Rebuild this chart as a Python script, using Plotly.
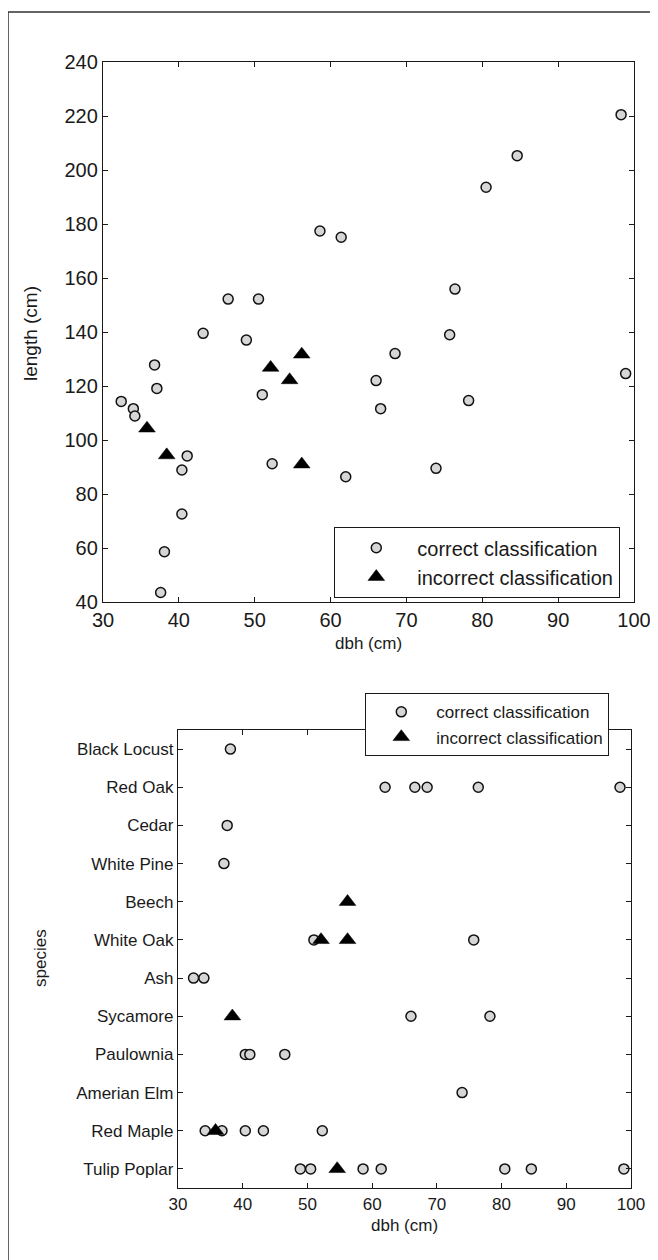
import plotly.graph_objects as go

# ---------------- data ----------------
species_order = ["Tulip Poplar", "Red Maple", "Amerian Elm", "Paulownia", "Sycamore", "Ash",
                 "White Oak", "Beech", "White Pine", "Cedar", "Red Oak", "Black Locust"]

dbh = [32.4, 34.0,
       34.2, 35.8, 36.8, 40.4, 43.2, 52.3,
       37.1, 37.6, 38.1,
       38.4, 66.0, 78.2,
       40.4, 41.1, 46.5,
       48.9, 50.5, 54.6, 58.6, 61.4, 80.5, 84.6, 98.9,
       51.0, 52.1, 56.2, 75.7,
       56.2,
       62.0, 66.6, 68.5, 76.4, 98.3,
       73.9]
length = [114.3, 111.6,
          108.9, 104.3, 127.8, 72.6, 139.5, 91.2,
          119.1, 43.5, 58.6,
          94.4, 122.0, 114.6,
          88.9, 94.1, 152.2,
          137.0, 152.2, 122.2, 177.4, 175.1, 193.6, 205.3, 124.6,
          116.8, 126.8, 91.0, 139.0,
          131.7,
          86.4, 111.6, 132.0, 155.9, 220.5,
          89.5]
species = ["Ash", "Ash",
           "Red Maple", "Red Maple", "Red Maple", "Red Maple", "Red Maple", "Red Maple",
           "White Pine", "Cedar", "Black Locust",
           "Sycamore", "Sycamore", "Sycamore",
           "Paulownia", "Paulownia", "Paulownia",
           "Tulip Poplar", "Tulip Poplar", "Tulip Poplar", "Tulip Poplar", "Tulip Poplar",
           "Tulip Poplar", "Tulip Poplar", "Tulip Poplar",
           "White Oak", "White Oak", "White Oak", "White Oak",
           "Beech",
           "Red Oak", "Red Oak", "Red Oak", "Red Oak", "Red Oak",
           "Amerian Elm"]
correct = [1, 1,
           1, 0, 1, 1, 1, 1,
           1, 1, 1,
           0, 1, 1,
           1, 1, 1,
           1, 1, 0, 1, 1, 1, 1, 1,
           1, 0, 0, 1,
           0,
           1, 1, 1, 1, 1,
           1]

x_ticks = [30, 40, 50, 60, 70, 80, 90, 100]
y_ticks = [40, 60, 80, 100, 120, 140, 160, 180, 200, 220, 240]

ok_idx = [i for i, c in enumerate(correct) if c]
bad_idx = [i for i, c in enumerate(correct) if not c]

# page 658x1260; the browser's default body margin is 8px
W, H, OFF = 658, 1260, 8
FW, FH = W - OFF, H - OFF


def fx(p):
    return (p - OFF) / FW


def fy(p):
    return 1 - (p - OFF) / FH


FONT = "Arial, Liberation Sans, sans-serif"
INK = "#1a1a1a"

circle = dict(symbol="circle", size=10, color="#d6d6d6", line=dict(color="#111", width=1.5))
tri = dict(symbol="triangle-up", size=14.5, color="#000", line=dict(color="#000", width=0.5))

fig = go.Figure()

# top: length vs dbh
fig.add_trace(go.Scatter(x=[dbh[i] for i in ok_idx], y=[length[i] for i in ok_idx],
                         mode="markers", marker=circle, name="correct classification",
                         xaxis="x", yaxis="y", legend="legend"))
fig.add_trace(go.Scatter(x=[dbh[i] for i in bad_idx], y=[length[i] for i in bad_idx],
                         mode="markers", marker=tri, name="incorrect classification",
                         xaxis="x", yaxis="y", legend="legend"))
# bottom: species vs dbh
fig.add_trace(go.Scatter(x=[dbh[i] for i in ok_idx], y=[species[i] for i in ok_idx],
                         mode="markers", marker=circle, name="correct classification",
                         xaxis="x2", yaxis="y2", legend="legend2"))
fig.add_trace(go.Scatter(x=[dbh[i] for i in bad_idx], y=[species[i] for i in bad_idx],
                         mode="markers", marker=tri, name="incorrect classification",
                         xaxis="x2", yaxis="y2", legend="legend2"))

axis_common = dict(showline=True, linecolor=INK, linewidth=1.3, mirror="ticks",
                   ticks="inside", ticklen=5, tickcolor=INK, tickwidth=1.3,
                   showgrid=False, zeroline=False, color=INK, automargin=False)

title_ann = [
    dict(text="dbh (cm)", x=fx(368), y=fy(643), font=dict(size=17)),
    dict(text="length (cm)", x=fx(30), y=fy(334), textangle=-90, font=dict(size=19)),
    dict(text="dbh (cm)", x=fx(404), y=fy(1225), font=dict(size=17)),
    dict(text="species", x=fx(40), y=fy(958), textangle=-90, font=dict(size=17)),
]
for a in title_ann:
    a.update(xref="paper", yref="paper", xanchor="center", yanchor="middle",
             showarrow=False)
    a["font"].update(family=FONT, color=INK)

fig.update_layout(
    template="none",
    width=FW, height=FH,
    margin=dict(l=0, r=0, t=0, b=0, pad=0, autoexpand=False),
    paper_bgcolor="white", plot_bgcolor="white",
    font=dict(family=FONT, color=INK),
    showlegend=True,
    xaxis=dict(domain=[fx(103), fx(634)], range=[30, 100], tickvals=x_ticks,
               tickfont=dict(size=20), anchor="y", **axis_common),
    yaxis=dict(domain=[fy(602), fy(62)], range=[40, 240], tickvals=y_ticks,
               tickfont=dict(size=20), anchor="x", **axis_common),
    xaxis2=dict(domain=[fx(178), fx(631)], range=[30, 100], tickvals=x_ticks,
                tickfont=dict(size=17), anchor="y2", **axis_common),
    yaxis2=dict(domain=[fy(1188), fy(730)], type="category",
                categoryorder="array", categoryarray=species_order, range=[-0.5, 11.5],
                tickfont=dict(size=17), anchor="x2", **axis_common),
    legend=dict(x=fx(334), y=fy(527), xanchor="left", yanchor="top",
                bgcolor="white", bordercolor=INK, borderwidth=1.3,
                font=dict(size=20, family=FONT, color=INK), itemwidth=72,
                tracegroupgap=0),
    legend2=dict(x=fx(365), y=fy(693), xanchor="left", yanchor="top",
                 bgcolor="white", bordercolor=INK, borderwidth=1.3,
                 font=dict(size=17, family=FONT, color=INK), itemwidth=60,
                 tracegroupgap=0),
    annotations=title_ann,
    shapes=[dict(type="rect", xref="paper", yref="paper",
                 x0=fx(8), x1=1.05, y0=-0.05, y1=fy(12),
                 line=dict(color="#333", width=1.5), fillcolor="rgba(0,0,0,0)", layer="below")],
)

fig.write_html("out.html")
